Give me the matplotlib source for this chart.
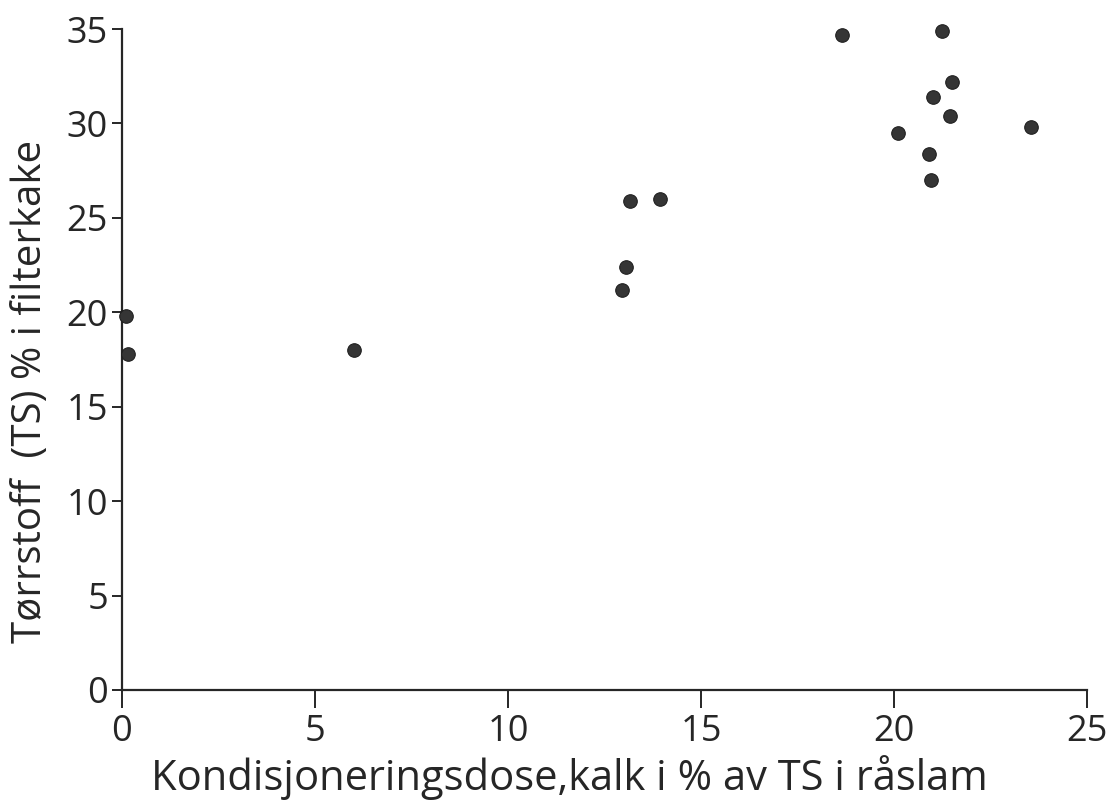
#!/usr/bin/env python3
# -*- coding: utf-8 -*-

import matplotlib
matplotlib.use('Agg')
import matplotlib.pyplot as plt

# dose of lime (% of TS in raw sludge) and dry solids in filter cake (%)
kalk_dose = [0.1, 0.15, 6.0, 12.95, 13.05, 13.15, 13.95, 18.65,
             20.1, 20.9, 20.95, 21.0, 21.25, 21.45, 21.5, 23.55]
torrstoff = [19.8, 17.8, 18.0, 21.2, 22.4, 25.9, 26.0, 34.7,
             29.5, 28.4, 27.0, 31.4, 34.9, 30.4, 32.2, 29.8]

x_ticks = [0, 5, 10, 15, 20, 25]
y_ticks = [0, 5, 10, 15, 20, 25, 30, 35]

x_label = "Kondisjoneringsdose,kalk i % av TS i råslam"
y_label = "Tørrstoff  (TS) % i filterkake"

plt.rcParams['font.family'] = ['Open Sans', 'DejaVu Sans']
ink = '#262626'

fig = plt.figure(figsize=(11.19, 8.02), dpi=100)
ax = fig.add_axes([0.109, 0.1397, 0.8624, 0.8241])

ax.scatter(kalk_dose, torrstoff, s=95, color='#353535', edgecolors='#202020',
           linewidths=0.8, zorder=5, clip_on=False)

ax.set_xlim(0, 25)
ax.set_ylim(0, 35)
ax.set_xticks(x_ticks)
ax.set_yticks(y_ticks)

# only left and bottom axis lines
for side in ['top', 'right']:
    ax.spines[side].set_visible(False)
for side in ['left', 'bottom']:
    ax.spines[side].set_linewidth(1.6)
    ax.spines[side].set_color(ink)

ax.tick_params(axis='x', length=13, width=1.4, pad=4, labelsize=26,
               color=ink, labelcolor=ink)
ax.tick_params(axis='y', length=7, width=1.4, pad=3, labelsize=26,
               color=ink, labelcolor=ink)

ax.set_xlabel(x_label, fontsize=30, color=ink)
ax.set_ylabel(y_label, fontsize=29, color=ink)
ax.xaxis.set_label_coords(0.464, -0.098)
ax.yaxis.set_label_coords(-0.074, 0.451)

fig.savefig('out.png', dpi=100, facecolor='white')
